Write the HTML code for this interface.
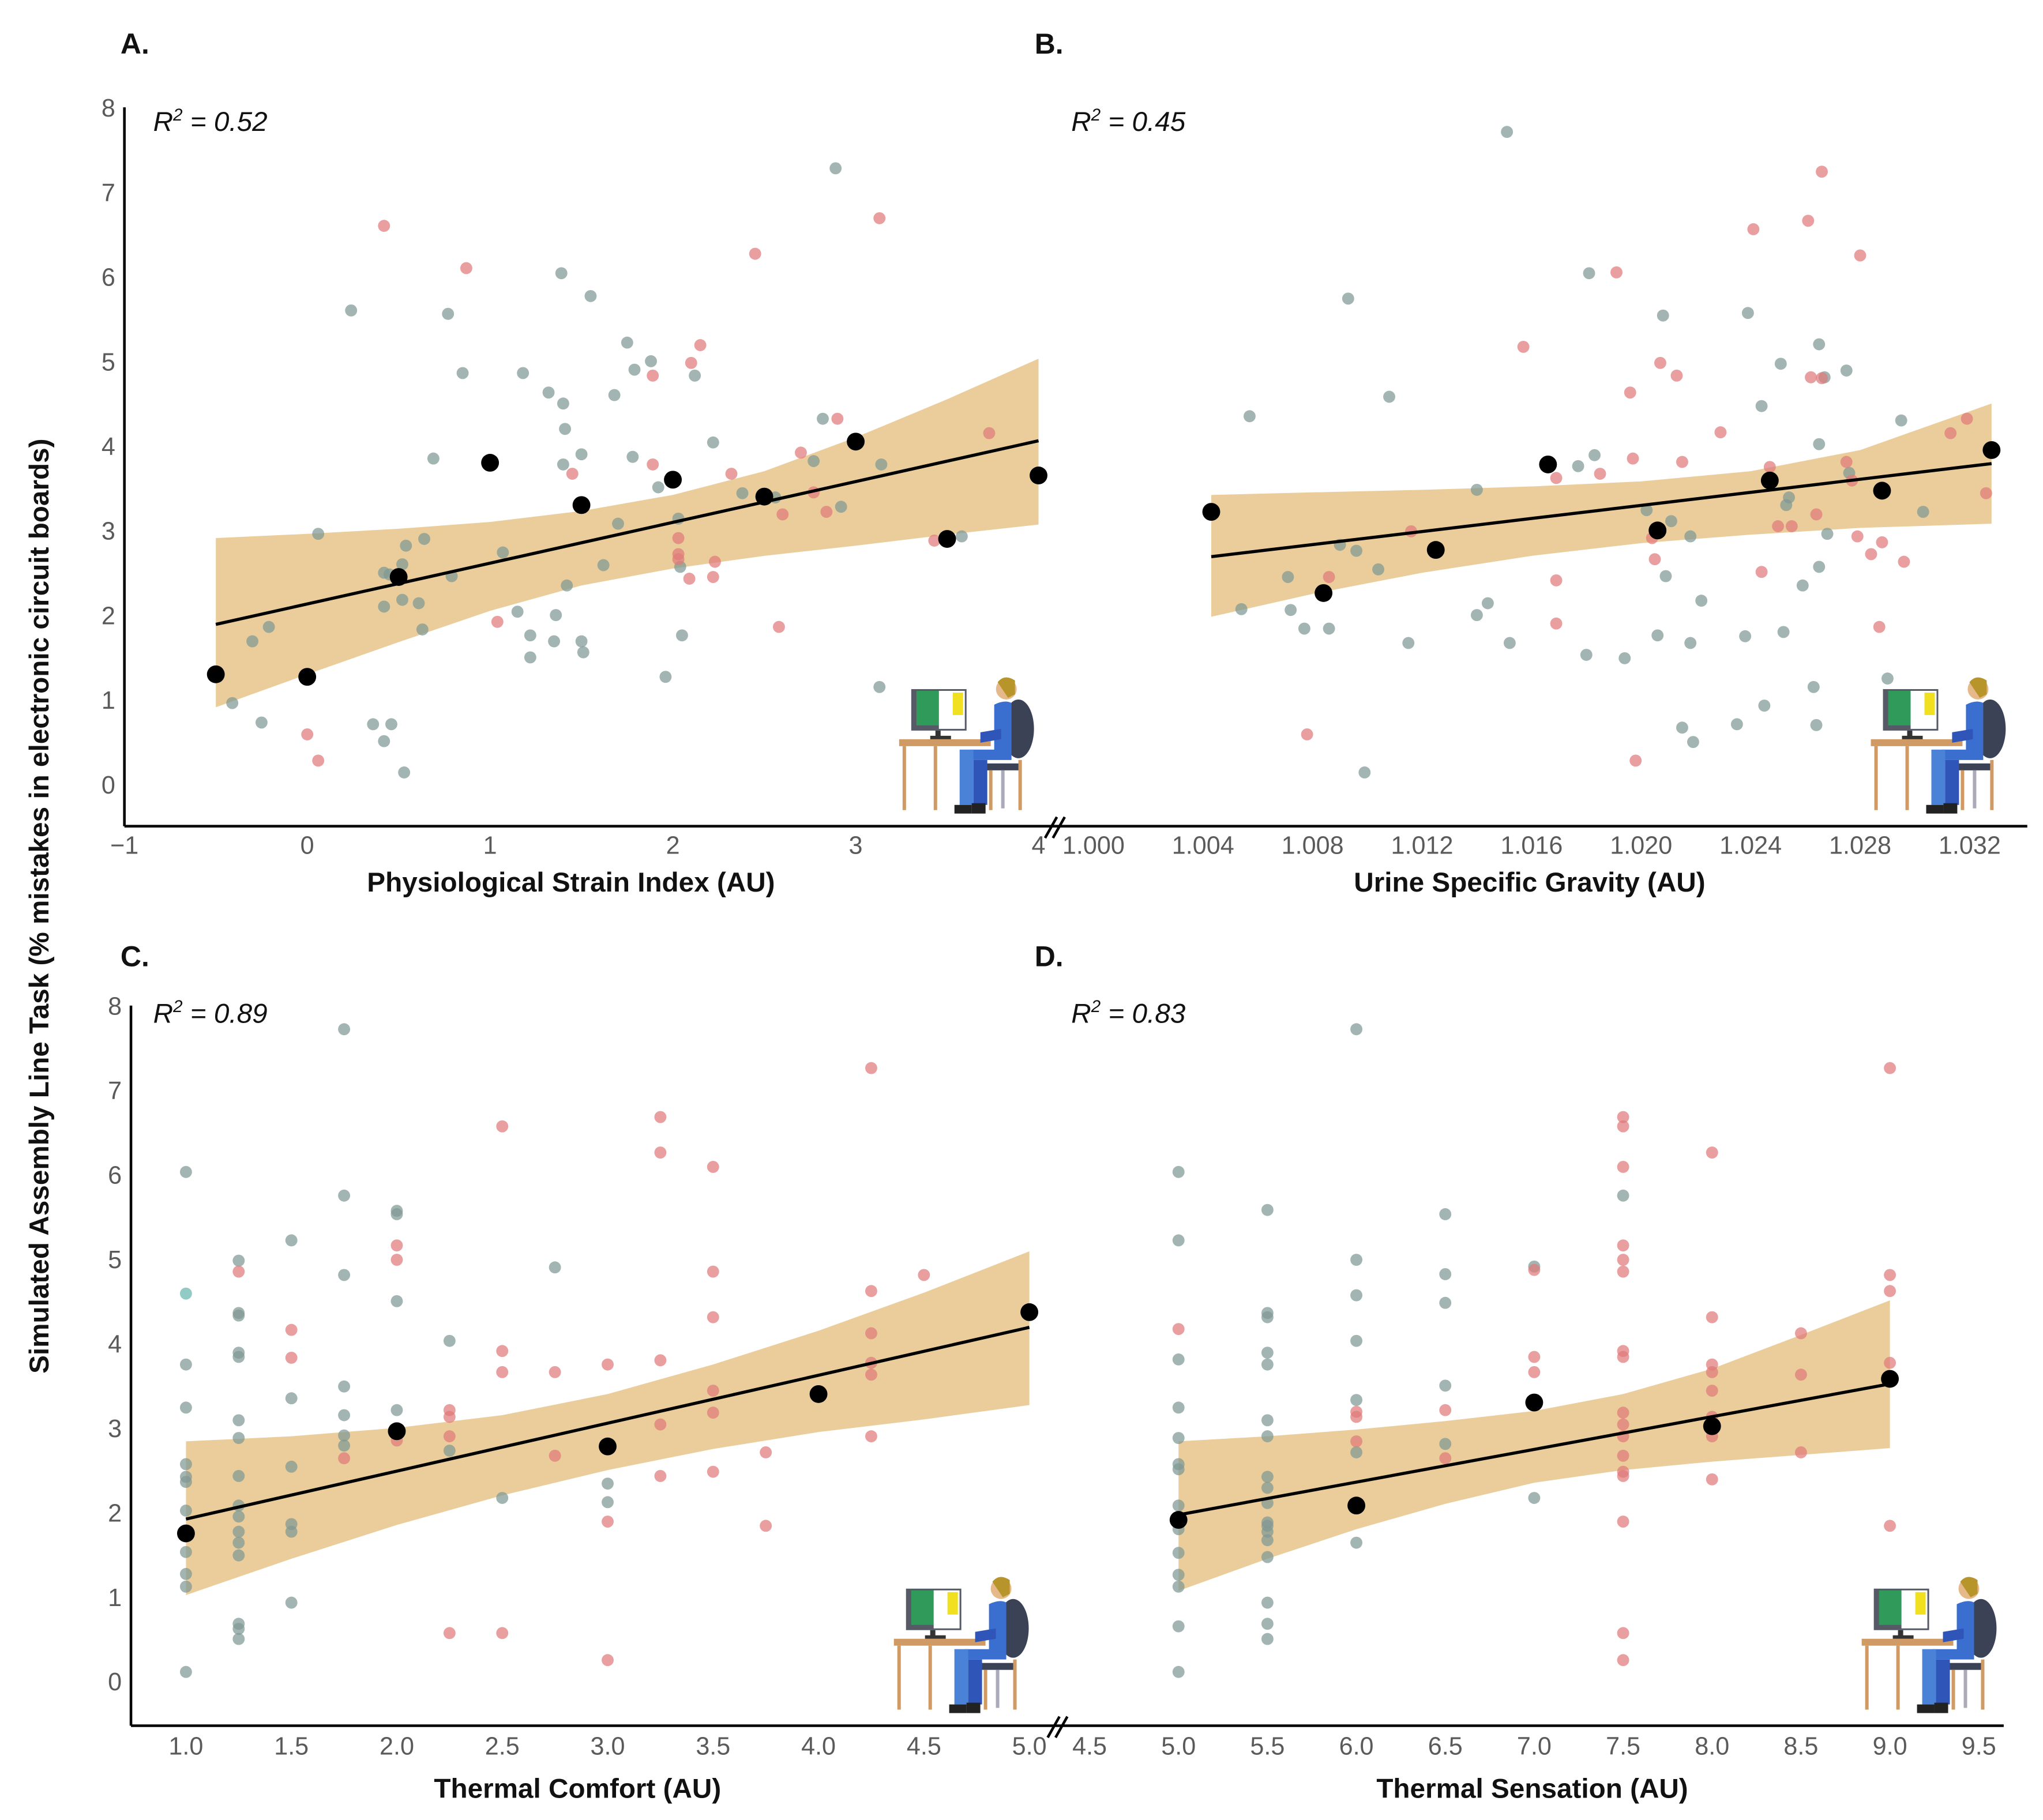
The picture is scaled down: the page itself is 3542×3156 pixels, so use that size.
<!DOCTYPE html>
<html><head><meta charset="utf-8"><style>
html,body{margin:0;padding:0;background:#fff;}
svg{display:block;}
text{font-family:"Liberation Sans","DejaVu Sans",sans-serif;}
.tick{fill:#5a5a5a;font-size:19px;}
.title{fill:#111;font-size:21px;font-weight:bold;}
.plab{fill:#111;font-size:22px;font-weight:bold;}
.r2{fill:#111;font-size:21px;font-style:italic;}
</style></head><body>
<svg id="chart" width="3542" height="3156" viewBox="0 0 1560 1390" preserveAspectRatio="none" xmlns="http://www.w3.org/2000/svg">
<defs>
<g id="icon">
 <rect x="3" y="44" width="53" height="4" fill="#cf9a63"/>
 <rect x="5" y="48" width="2" height="37" fill="#cf9a63"/>
 <rect x="23" y="48" width="2" height="37" fill="#cf9a63"/>
 <rect x="10" y="15" width="32" height="24" fill="#555a66"/>
 <rect x="13" y="16" width="13" height="20" fill="#2f9a5a"/>
 <rect x="26" y="16" width="15" height="22" fill="#fff"/>
 <rect x="34" y="17" width="6" height="13" fill="#f0e020"/>
 <rect x="24" y="39" width="3" height="4" fill="#333"/>
 <rect x="21" y="42" width="12" height="2" fill="#333"/>
 <ellipse cx="72" cy="38" rx="9" ry="17" fill="#3b4256"/>
 <rect x="50" y="58" width="23" height="4" fill="#3b4256"/>
 <rect x="55" y="62" width="2" height="23" fill="#cf9a63"/>
 <rect x="72" y="56" width="2" height="29" fill="#cf9a63"/>
 <rect x="62" y="62" width="2" height="22" fill="#aab"/>
 <circle cx="65" cy="15" r="6" fill="#e6b98a"/>
 <path d="M60 11 Q64 6 70 10 L70 18 L66 20 Z" fill="#b8952a"/>
 <path d="M58 24 Q64 21 68 23 L68 56 L44 56 L44 50 L58 50 Z" fill="#3a6fd0"/>
 <path d="M50 40 L62 38 L62 44 L50 46 Z" fill="#2f55b8"/>
 <rect x="38" y="50" width="8" height="32" fill="#4a82d8"/>
 <rect x="46" y="56" width="8" height="26" fill="#2f55b8"/>
 <rect x="35" y="82" width="10" height="5" fill="#222"/>
 <rect x="45" y="81" width="8" height="6" fill="#222"/>
</g>
</defs>
<g id="layer"></g>
</svg>
<script>
// ---------- Panel A data (Physiological Strain Index) ----------
const aGreyX=[-0.41,-0.25,-0.3,-0.21,0.06,0.24,0.36,0.42,0.46,0.53,0.42,0.45,0.42,0.52,0.52,0.61,0.63,0.64,0.54,0.69,0.77,0.79,0.85,1.07,1.15,1.22,1.22,1.18,1.32,1.39,1.4,1.35,1.36,1.41,1.4,1.42,1.5,1.5,1.51,1.55,1.62,1.68,1.7,1.75,1.78,1.79,1.88,1.92,1.96,2.03,2.04,2.05,2.12,2.22,2.38,2.56,2.82,2.89,2.77,2.92,3.14,3.13,3.58];
const aGreyY=[0.96,0.73,1.69,1.86,2.96,5.6,0.71,0.51,0.71,0.14,2.5,2.48,2.1,2.6,2.18,2.14,1.83,2.9,2.82,3.85,5.56,2.46,4.86,2.74,2.04,1.76,1.5,4.86,4.63,6.04,4.5,1.69,2.0,4.2,3.78,2.35,3.9,1.69,1.56,5.77,2.59,4.6,3.08,5.22,3.87,4.9,5.0,3.51,1.27,3.14,2.57,1.76,4.83,4.04,3.44,3.39,4.32,7.28,3.82,3.28,3.78,1.15,2.93];
const aPinkX=[0.42,0.87,0,0.06,1.04,1.45,1.89,1.89,2.1,2.15,2.03,2.03,2.03,2.09,2.23,2.22,2.32,2.45,2.58,2.6,2.7,2.77,2.84,2.9,3.13,3.43,3.73];
const aPinkY=[6.6,6.1,0.59,0.28,1.92,3.67,3.78,4.83,4.98,5.19,2.91,2.72,2.66,2.43,2.63,2.45,3.67,6.27,1.86,3.19,3.92,3.45,3.22,4.32,6.69,2.88,4.15];
const aMeanX=[-0.5,0,0.5,1,1.5,2,2.5,3,3.5,4];
const aMeanY=[1.3,1.27,2.45,3.8,3.3,3.6,3.4,4.05,2.9,3.65];
const aBandX=[-0.5,0,0.5,1,1.5,2,2.5,3,3.5,4];
const aBandHi=[2.91,2.96,3.02,3.1,3.23,3.42,3.7,4.1,4.55,5.03];
const aBandLo=[0.91,1.3,1.68,2.05,2.35,2.55,2.7,2.82,2.95,3.07];
const aFitX=[-0.5,4], aFitY=[1.89,4.06];
const aTicksX=[-1,0,1,2,3,4];
// ---------- Panel B data (Urine Specific Gravity) ----------
const bGreyX=[1.0151,1.0057,1.0054,1.0071,1.0072,1.0077,1.0086,1.0090,1.0093,1.0096,1.0099,1.0104,1.0108,1.0115,1.0140,1.0140,1.0144,1.0152,1.0177,1.0180,1.0181,1.0183,1.0194,1.0202,1.0206,1.0208,1.0209,1.0211,1.0215,1.0218,1.0218,1.0219,1.0222,1.0235,1.0238,1.0239,1.0244,1.0245,1.0251,1.0252,1.0253,1.0254,1.0259,1.0264,1.0265,1.0265,1.0265,1.0267,1.0268,1.0275,1.0276,1.0290,1.0295,1.0303,1.0263];
const bGreyY=[7.71,4.35,2.07,2.45,2.06,1.84,1.84,2.83,5.74,2.76,0.14,2.54,4.58,1.67,3.48,2.0,2.14,1.67,3.76,1.53,6.04,3.89,1.49,3.24,1.76,5.54,2.46,3.11,0.67,1.67,2.93,0.5,2.17,0.71,1.75,5.57,4.47,0.93,4.97,1.8,3.3,3.39,2.35,0.7,2.57,4.02,5.2,4.81,2.96,4.89,3.68,1.25,4.3,3.22,1.15];
const bPinkX=[1.0078,1.0086,1.0116,1.0157,1.0169,1.0169,1.0169,1.0185,1.0191,1.0196,1.0197,1.0198,1.0204,1.0205,1.0207,1.0213,1.0215,1.0229,1.0241,1.0244,1.0247,1.0250,1.0255,1.0261,1.0262,1.0264,1.0266,1.0266,1.0275,1.0277,1.0279,1.0280,1.0284,1.0287,1.0288,1.0296,1.0313,1.0319,1.0326];
const bPinkY=[0.59,2.45,2.99,5.17,3.62,2.41,1.9,3.67,6.05,4.63,3.85,0.28,2.91,2.66,4.98,4.83,3.81,4.16,6.56,2.51,3.75,3.05,3.05,6.66,4.81,3.19,7.24,4.8,3.81,3.59,2.93,6.25,2.72,1.86,2.86,2.63,4.15,4.32,3.44];
const bMeanX=[1.0043,1.0084,1.0125,1.0166,1.0206,1.0247,1.0288,1.0328];
const bMeanY=[3.22,2.26,2.77,3.78,3.0,3.59,3.47,3.95];
const bBandX=[1.0043,1.008,1.012,1.016,1.020,1.024,1.028,1.0328];
const bBandHi=[3.42,3.45,3.48,3.52,3.58,3.7,3.95,4.5];
const bBandLo=[1.98,2.25,2.5,2.7,2.85,2.95,3.03,3.08];
const bFitX=[1.0043,1.0328], bFitY=[2.69,3.79];
const bTicksX=[1.000,1.004,1.008,1.012,1.016,1.020,1.024,1.028,1.032];
// ---------- Panel C data (Thermal Comfort) ----------
const cGreyX=[1,1,1,1,1,1,1,1,1,1,1,1,1.25,1.25,1.25,1.25,1.25,1.25,1.25,1.25,1.25,1.25,1.25,1.25,1.25,1.25,1.25,1.25,1.5,1.5,1.5,1.5,1.5,1.5,1.75,1.75,1.75,1.75,1.75,1.75,1.75,2,2,2,2,2.25,2.25,2.5,2.75,3,3];
const cGreyY=[6.03,3.75,3.24,2.57,2.36,2.42,2.02,1.74,1.53,1.27,1.12,0.11,4.98,4.36,4.33,3.89,3.84,3.09,2.88,2.43,2.08,1.95,1.77,1.64,1.49,0.68,0.62,0.5,5.22,3.35,2.54,1.86,1.77,0.93,7.72,5.75,4.81,3.49,3.15,2.91,2.79,5.57,5.53,4.5,3.21,4.03,2.73,2.17,4.9,2.34,2.12];
const cTealX=[1], cTealY=[4.59];
const cPinkX=[1.25,1.5,1.5,1.75,2,2,2,2.25,2.25,2.25,2.25,2.5,2.5,2.5,2.5,2.75,2.75,3,3,3,3.25,3.25,3.25,3.25,3.25,3.5,3.5,3.5,3.5,3.5,3.5,3.75,3.75,4.25,4.25,4.25,4.25,4.25,4.25,4.5];
const cPinkY=[4.85,4.16,3.83,2.64,5.16,4.99,2.85,3.21,3.13,2.9,0.57,6.57,3.91,3.66,0.57,3.66,2.67,3.75,1.89,0.25,6.68,6.26,3.8,3.04,2.43,6.09,4.85,4.31,3.44,3.18,2.48,2.71,1.84,7.26,4.62,4.12,3.77,3.63,2.9,4.81];
const cMeanX=[1,2,3,4,5];
const cMeanY=[1.75,2.96,2.78,3.4,4.37];
const cBandX=[1,1.5,2,2.5,3,3.5,4,4.5,5];
const cBandHi=[2.84,2.9,3.0,3.15,3.4,3.75,4.15,4.6,5.09];
const cBandLo=[1.02,1.45,1.85,2.2,2.5,2.75,2.95,3.1,3.27];
const cFitX=[1,5], cFitY=[1.92,4.19];
const cTicksX=[1.0,1.5,2.0,2.5,3.0,3.5,4.0,4.5,5.0];
// ---------- Panel D data (Thermal Sensation) ----------
const dGreyX=[5,5,5,5,5,5,5,5,5,5,5,5,5,5,5.5,5.5,5.5,5.5,5.5,5.5,5.5,5.5,5.5,5.5,5.5,5.5,5.5,5.5,5.5,5.5,5.5,5.5,6,6,6,6,6,6,6,6.5,6.5,6.5,6.5,6.5,7,7,7.5];
const dGreyY=[6.03,5.22,3.81,3.24,2.88,2.57,2.51,2.08,1.8,1.52,1.26,1.12,0.65,0.11,5.58,4.36,4.31,3.89,3.75,3.09,2.9,2.42,2.29,2.11,1.88,1.84,1.77,1.67,1.47,0.93,0.68,0.5,7.72,4.99,4.57,4.03,3.33,2.71,1.64,5.53,4.82,4.48,3.5,2.81,4.91,2.17,5.75];
const dPinkX=[5,6,6,6,6.5,6.5,7,7,7,7.5,7.5,7.5,7.5,7.5,7.5,7.5,7.5,7.5,7.5,7.5,7.5,7.5,7.5,7.5,7.5,7.5,8,8,8,8,8,8,8,8,8.5,8.5,8.5,9,9,9,9,9];
const dPinkY=[4.17,3.19,3.13,2.84,3.21,2.64,4.87,3.84,3.66,6.68,6.57,6.09,5.16,4.99,4.85,3.91,3.84,3.18,3.04,2.9,2.67,2.48,2.43,1.89,0.57,0.25,6.26,4.31,3.75,3.66,3.44,3.13,2.9,2.39,4.12,3.63,2.71,7.26,4.81,4.62,3.77,1.84];
const dMeanX=[5,6,7,8,9];
const dMeanY=[1.91,2.08,3.3,3.02,3.58];
const dBandX=[5,5.5,6,6.5,7,7.5,8,8.5,9];
const dBandHi=[2.84,2.9,2.98,3.08,3.2,3.4,3.7,4.1,4.51];
const dBandLo=[1.07,1.45,1.8,2.1,2.35,2.5,2.6,2.68,2.76];
const dFitX=[5,9], dFitY=[1.97,3.52];
const dTicksX=[4.5,5.0,5.5,6.0,6.5,7.0,7.5,8.0,8.5,9.0,9.5];
const yTicks=[0,1,2,3,4,5,6,7,8];

const NS="http://www.w3.org/2000/svg";
const layer=document.getElementById('layer');
function mk(tag,attrs,parent){const e=document.createElementNS(NS,tag);for(const k in attrs)e.setAttribute(k,attrs[k]);(parent||layer).appendChild(e);return e;}
function lin(d0,d1,r0,r1){return v=>r0+(v-d0)*(r1-r0)/(d1-d0);}

function panel(cfg){
  const g=mk('g',{});
  
  
  const sx=cfg.sx, sy=cfg.sy;
  let d='';
  cfg.bandX.forEach((x,i)=>{d+=(i?'L':'M')+sx(x)+' '+sy(cfg.bandHi[i]);});
  for(let i=cfg.bandX.length-1;i>=0;i--)d+='L'+sx(cfg.bandX[i])+' '+sy(cfg.bandLo[i]);
  const band=mk('path',{d:d+'Z',fill:'#e6c48a','fill-opacity':0.85},g);
  
  
  function pts(X,Y,col,op,r,nm){X.forEach((x,i)=>{const c=mk('circle',{cx:sx(x),cy:sy(Y[i]),r:r,fill:col,'fill-opacity':op},g);
    
    });}
  pts(cfg.greyX,cfg.greyY,'#7f9894',0.72,4.6,'participant-point-grey');
  if(cfg.tealX)pts(cfg.tealX,cfg.tealY,'#7fc2bc',0.85,4.6,'participant-point-teal');
  pts(cfg.pinkX,cfg.pinkY,'#e07a7a',0.72,4.6,'participant-point-pink');
  const fl=mk('line',{x1:sx(cfg.fitX[0]),y1:sy(cfg.fitY[0]),x2:sx(cfg.fitX[1]),y2:sy(cfg.fitY[1]),stroke:'#000','stroke-width':2.4},g);
  
  
  pts(cfg.meanX,cfg.meanY,'#000',1,6.8,'mean-point');
  cfg.ticksX.forEach(t=>{const tx=mk('text',{x:sx(t),y:cfg.tickY,'text-anchor':'middle',class:'tick'},g);tx.textContent=cfg.fmt(t);
    
    });
  if(cfg.yAxisX){yTicks.forEach(t=>{const ty=mk('text',{x:cfg.yAxisX-7,y:sy(t)+7,'text-anchor':'end',class:'tick'},g);ty.textContent=t;
    
    });}
}
const syA=lin(0,8,599,82), syC=lin(0,8,1284,768);
panel({name:'panel-a',sx:lin(-1,4,95,793),sy:syA,greyX:aGreyX,greyY:aGreyY,pinkX:aPinkX,pinkY:aPinkY,meanX:aMeanX,meanY:aMeanY,bandX:aBandX,bandHi:aBandHi,bandLo:aBandLo,fitX:aFitX,fitY:aFitY,ticksX:aTicksX,tickY:652,fmt:t=>t<0?'\u22121':String(t),yAxisX:95});
panel({name:'panel-b',sx:lin(1.000,1.032,835,1504),sy:syA,greyX:bGreyX,greyY:bGreyY,pinkX:bPinkX,pinkY:bPinkY,meanX:bMeanX,meanY:bMeanY,bandX:bBandX,bandHi:bBandHi,bandLo:bBandLo,fitX:bFitX,fitY:bFitY,ticksX:bTicksX,tickY:652,fmt:t=>t.toFixed(3)});
panel({name:'panel-c',sx:lin(1,5,142,786),sy:syC,greyX:cGreyX,greyY:cGreyY,tealX:cTealX,tealY:cTealY,pinkX:cPinkX,pinkY:cPinkY,meanX:cMeanX,meanY:cMeanY,bandX:cBandX,bandHi:cBandHi,bandLo:cBandLo,fitX:cFitX,fitY:cFitY,ticksX:cTicksX,tickY:1340,fmt:t=>t.toFixed(1),yAxisX:100});
panel({name:'panel-d',sx:lin(4.5,9.5,832,1511),sy:syC,greyX:dGreyX,greyY:dGreyY,pinkX:dPinkX,pinkY:dPinkY,meanX:dMeanX,meanY:dMeanY,bandX:dBandX,bandHi:dBandHi,bandLo:dBandLo,fitX:dFitX,fitY:dFitY,ticksX:dTicksX,tickY:1340,fmt:t=>t.toFixed(1)});

function ln(x1,y1,x2,y2,nm){const l=mk('line',{x1,y1,x2,y2,stroke:'#000','stroke-width':2});
  
  }
ln(95,82,95,631,'y-axis-line-top');
ln(95,631,1548,631,'x-axis-line-top');
ln(100,768,100,1318,'y-axis-line-bottom');
ln(100,1318,1530,1318,'x-axis-line-bottom');
function brk(x,y,nm){[[-4,0],[2,0]].forEach(o=>{const l=mk('line',{x1:x+o[0]-4,y1:y+8,x2:x+o[0]+5,y2:y-8,stroke:'#000','stroke-width':2});
  
  });}
brk(806,632,'axis-break-top');brk(808,1319,'axis-break-bottom');

function txt(x,y,s,cls,nm,extra){const t=mk('text',Object.assign({x,y,class:cls},extra||{}));t.textContent=s;
  
  return t;}
txt(92,41,'A.','plab','panel-label-a');
txt(790,41,'B.','plab','panel-label-b');
txt(92,738,'C.','plab','panel-label-c');
txt(790,738,'D.','plab','panel-label-d');
function r2(x,y,v,nm){const t=mk('text',{x,y,class:'r2'});t.innerHTML='R<tspan dy="-8" font-size="13">2</tspan><tspan dy="8"> = '+v+'</tspan>';
  
  }
r2(117,100,'0.52','r-squared-a');r2(818,100,'0.45','r-squared-b');
r2(117,781,'0.89','r-squared-c');r2(818,781,'0.83','r-squared-d');
txt(436,681,'Physiological Strain Index (AU)','title','x-axis-title-a',{'text-anchor':'middle'});
txt(1168,681,'Urine Specific Gravity (AU)','title','x-axis-title-b',{'text-anchor':'middle'});
txt(441,1373,'Thermal Comfort (AU)','title','x-axis-title-c',{'text-anchor':'middle'});
txt(1170,1373,'Thermal Sensation (AU)','title','x-axis-title-d',{'text-anchor':'middle'});
txt(0,0,'Simulated Assembly Line Task (% mistakes in electronic circuit boards)','title','y-axis-title',{'text-anchor':'middle',transform:'translate(37,692) rotate(-90)'});

[[682.6,506.5,'worker-icon-a'],[1424.6,506.5,'worker-icon-b'],[678.6,1193.5,'worker-icon-c'],[1417.6,1193.5,'worker-icon-d']].forEach(p=>{
  const u=mk('use',{href:'#icon',transform:'translate('+p[0]+','+p[1]+') scale(1.32)'});
  
  });
</script>
</body></html>
